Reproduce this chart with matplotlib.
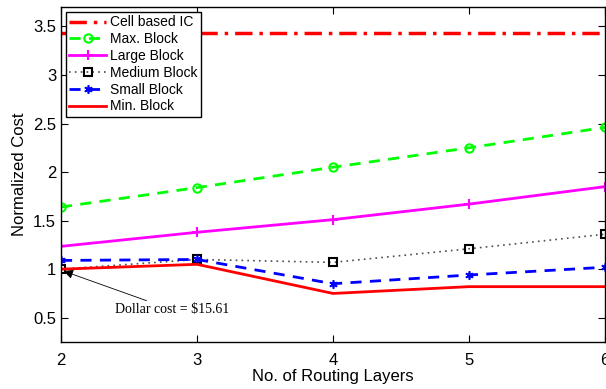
import matplotlib
matplotlib.use("Agg")
import matplotlib.pyplot as plt

plt.rcParams['font.family'] = ['Liberation Sans', 'DejaVu Sans']

layers = [2, 3, 4, 5, 6]
cell_ic = [3.43, 3.43, 3.43, 3.43, 3.43]
max_block = [1.64, 1.84, 2.05, 2.25, 2.46]
large_block = [1.235, 1.38, 1.51, 1.67, 1.85]
medium_block = [1.0, 1.10, 1.07, 1.21, 1.36]
small_block = [1.09, 1.10, 0.85, 0.94, 1.02]
min_block = [1.0, 1.05, 0.75, 0.82, 0.82]
xticks = [2, 3, 4, 5, 6]
yticks = [0.5, 1, 1.5, 2, 2.5, 3, 3.5]

fig = plt.figure(figsize=(6.06, 3.89), dpi=100)
ax = fig.add_axes([61/606, 1 - 342/389, 544/606, 335/389])

ax.plot(layers, cell_ic, color=(1, 0, 0), linestyle=(0, (5, 2, 1, 2)), lw=2.5, label='Cell based IC')
ax.plot(layers, max_block, color=(0, 1, 0), linestyle=(0, (4, 3)), lw=2, marker='o', ms=6,
        mfc='none', mew=1.5, label='Max. Block')
ax.plot(layers, large_block, color=(1, 0, 1), linestyle='-', lw=2, marker='+', ms=7, mew=1.5,
        label='Large Block')
ax.plot(layers, medium_block, color=(0.3, 0.3, 0.3), linestyle=(0, (1, 2.5)), lw=1.2, marker='s', ms=6,
        mfc='none', mec='black', mew=1.5, label='Medium Block')
ax.plot(layers, small_block, color=(0, 0, 1), linestyle=(0, (4, 3)), lw=2, marker=(6, 2, 0), ms=6,
        mew=1.2, label='Small Block')
ax.plot(layers, min_block, color=(1, 0, 0), linestyle='-', lw=2, label='Min. Block')

ax.set_xlim(2, 6)
ax.set_ylim(0.25, 3.7)
ax.set_xticks(xticks)
ax.set_yticks(yticks)
ax.set_yticklabels(['0.5', '1', '1.5', '2', '2.5', '3', '3.5'])
ax.tick_params(direction='in', top=True, right=True, labelsize=12, length=5, width=0.8)
ax.tick_params(axis='x', pad=8)
for s in ax.spines.values():
    s.set_linewidth(1.0)

ax.set_xlabel('No. of Routing Layers', fontsize=12, labelpad=1)
ax.set_ylabel('Normalized Cost', fontsize=12, labelpad=4)

leg = ax.legend(loc='upper left', fontsize=10, frameon=True, fancybox=False, edgecolor='black',
                borderpad=0.25, labelspacing=0.2, handlelength=2.6, handletextpad=0.3,
                borderaxespad=0.36, framealpha=1)
leg.get_frame().set_linewidth(1.0)

ax.annotate('Dollar cost = \\$15.61', xy=(2.02, 0.98), xytext=(2.4, 0.58),
            fontsize=10, family=['Liberation Serif', 'DejaVu Serif'], ha='left', va='center',
            arrowprops=dict(arrowstyle='-|>', color='black', lw=0.6, mutation_scale=14,
                            shrinkA=0, shrinkB=0))

fig.savefig('out.png', dpi=100)
